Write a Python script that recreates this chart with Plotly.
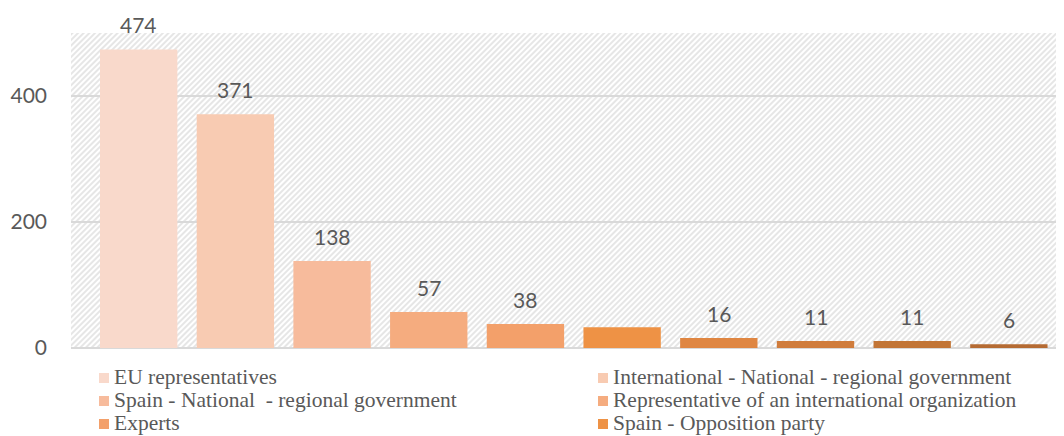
import plotly.graph_objects as go

categories = [
    "EU representatives",
    "International - National - regional government",
    "Spain - National  - regional government",
    "Representative of an international organization",
    "Experts",
    "Spain - Opposition party",
    "Category 7",
    "Category 8",
    "Category 9",
    "Category 10",
]
values = [474, 371, 138, 57, 38, 33, 16, 11, 11, 6]
labels = ["474", "371", "138", "57", "38", "", "16", "11", "11", "6"]
in_legend = [True, True, True, True, True, True, False, False, False, False]
colors = ["#F9D9CB", "#F8CBB2", "#F7BB9C", "#F5AC7F", "#F3A06A",
          "#EE9245", "#DF8642", "#D07C3C", "#C27536", "#B56B33"]
y_ticks = [0, 200, 400]

# page body has an 8px margin in the browser; positions below are in window pixels
OFF = 8
W, H = 1064 - OFF, 436 - OFF
ML, MR, MT = 71 - OFF, 0, 33 - OFF
MB = H - (348 - OFF)
PW, PH = W - ML - MR, H - MT - MB


def px_x(p):
    return (p - OFF - ML) / PW


def px_y(p):
    return (H - MB - (p - OFF)) / PH


fig = go.Figure()
for i, (c, v, col) in enumerate(zip(categories, values, colors)):
    fig.add_trace(go.Bar(x=[i], y=[v], name=c, marker=dict(color=col, line=dict(width=0)),
                         width=0.8, showlegend=False))
    if labels[i]:
        fig.add_annotation(x=i, y=v, text=labels[i], showarrow=False, yanchor="bottom",
                           yshift=10, font=dict(family="Lato", size=21, color="#595959"))

# Legend (two columns, three visible rows), built from the category list
col_sym_x = [104, 603]
col_txt_x = [112, 611]
row_y = [378, 401, 424]
k = 0
for i, (c, col, sl) in enumerate(zip(categories, colors, in_legend)):
    if not sl:
        continue
    cc, rr = k % 2, k // 2
    k += 1
    cx, cy = col_sym_x[cc], row_y[rr]
    fig.add_shape(type="rect", xref="paper", yref="paper",
                  x0=px_x(cx - 5), x1=px_x(cx + 5), y0=px_y(cy + 5), y1=px_y(cy - 5),
                  fillcolor=col, line=dict(width=0))
    fig.add_annotation(xref="paper", yref="paper", x=px_x(col_txt_x[cc]), y=px_y(cy - 1),
                       xanchor="left", yanchor="middle", text=c, showarrow=False,
                       font=dict(family="Liberation Serif", size=21.5, color="#595959"))

hatch = ("data:image/svg+xml;utf8,"
         "<svg xmlns='http://www.w3.org/2000/svg' width='993' height='315'>"
         "<defs><pattern id='p' width='4' height='4' patternUnits='userSpaceOnUse' patternTransform='rotate(45)'>"
         "<rect width='4' height='4' fill='white'/><rect width='2' height='4' fill='%23e6e6e6'/></pattern></defs>"
         "<rect width='993' height='315' fill='url(%23p)'/></svg>")

fig.add_layout_image(dict(source=hatch, xref="paper", yref="paper", x=0, y=1,
                          sizex=1, sizey=1, sizing="stretch", layer="below",
                          xanchor="left", yanchor="top"))

fig.update_layout(
    width=W, height=H,
    margin=dict(l=ML, r=MR, t=MT, b=MB, autoexpand=False),
    paper_bgcolor="white", plot_bgcolor="rgba(0,0,0,0)",
    barmode="overlay",
    showlegend=False,
    xaxis=dict(range=[-0.70, 9.57], showticklabels=False, showgrid=False, zeroline=False,
               fixedrange=True, automargin=False),
    yaxis=dict(range=[0, 500], tickvals=y_ticks, showgrid=True, gridcolor="#D9D9D9", gridwidth=2,
               zeroline=True, zerolinecolor="#D9D9D9", zerolinewidth=2, automargin=False,
               tickfont=dict(family="Lato", size=21, color="#595959"), ticklabelstandoff=23),
)

fig.write_html("out.html")
